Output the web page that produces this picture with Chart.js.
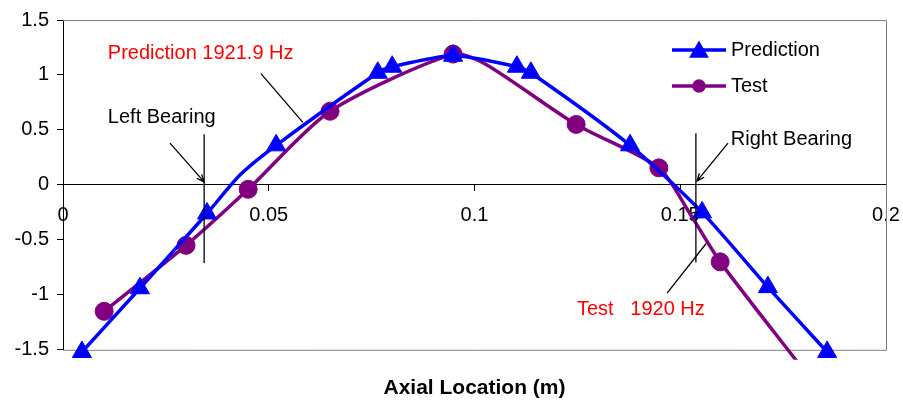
<!DOCTYPE html>
<html>
<head>
<meta charset="utf-8">
<script src="https://cdn.jsdelivr.net/npm/chart.js@4/dist/chart.umd.min.js"></script>
<style>
  html, body { margin: 0; padding: 0; background: #fff; }
  #wrap { width: 903px; height: 400px; }
</style>
</head>
<body>
<div id="wrap"><canvas id="modeShape" width="903" height="400"></canvas></div>
<script>
// axial location (m) and normalised mode shape amplitude
const predX = [0.0046, 0.0187, 0.0350, 0.0430, 0.0518, 0.0765, 0.0800, 0.0948, 0.1103, 0.1137, 0.1378, 0.1553, 0.1713, 0.1857];
const predY = [-1.52, -0.94, -0.26, 0.09, 0.36, 1.02, 1.075, 1.175, 1.075, 1.02, 0.36, -0.25, -0.93, -1.52];
const predNoMarker = [3];

const testX = [0.0100, 0.0299, 0.0450, 0.0649, 0.0948, 0.1026, 0.1247, 0.1448, 0.1525, 0.1597, 0.1795];
const testY = [-1.15, -0.55, -0.04, 0.67, 1.19, 1.10, 0.55, 0.155, -0.27, -0.70, -1.66];
const testNoMarker = [5, 8, 10];

const seriesNames = ['Prediction', 'Test'];

const FONT = "'Liberation Sans', Arial, sans-serif";
const BLUE = '#0000ff';
const PURPLE = '#800080';
const RED = '#ff0000';

function toPoints(xs, ys) {
  return xs.map((x, i) => ({ x: x, y: ys[i] }));
}

// labels, bearing markers and leader lines, placed in axis units
const notes = [
  { text: 'Prediction 1921.9 Hz', color: RED, x: 0.0109, y: 1.193 },
  { text: 'Left Bearing', color: '#000', x: 0.0109, y: 0.614 },
  { text: 'Right Bearing', color: '#000', x: 0.1623, y: 0.416 },
  { text: 'Test   1920 Hz', color: RED, x: 0.1249, y: -1.13 }
];
const leaders = [
  { from: [0.0481, 1.012], to: [0.0583, 0.569] },
  { from: [0.0343, 0.46], to: [0.0343, -0.71] },
  { from: [0.0260, 0.38], to: [0.0343, 0.027], arrow: true },
  { from: [0.1538, 0.47], to: [0.1538, -0.705] },
  { from: [0.1616, 0.38], to: [0.1541, 0.036], arrow: true },
  { from: [0.1468, -0.985], to: [0.1563, -0.533] }
];

const framePlugin = {
  id: 'frame',
  beforeDatasetsDraw(chart) {
    const { ctx, chartArea: a } = chart;
    ctx.save();
    ctx.strokeStyle = '#808080';
    ctx.lineWidth = 1;
    ctx.beginPath();
    ctx.moveTo(a.left, a.top + 0.5);
    ctx.lineTo(a.right + 0.5, a.top + 0.5);
    ctx.lineTo(a.right + 0.5, a.bottom + 0.5);
    ctx.lineTo(a.left, a.bottom + 0.5);
    ctx.stroke();
    ctx.restore();
  }
};

const notesPlugin = {
  id: 'notes',
  afterDatasetsDraw(chart) {
    const { ctx } = chart;
    const sx = chart.scales.x, sy = chart.scales.y;
    ctx.save();
    ctx.strokeStyle = '#000';
    ctx.lineWidth = 1.3;
    leaders.forEach(l => {
      const x1 = sx.getPixelForValue(l.from[0]), y1 = sy.getPixelForValue(l.from[1]);
      const x2 = sx.getPixelForValue(l.to[0]), y2 = sy.getPixelForValue(l.to[1]);
      ctx.beginPath();
      ctx.moveTo(x1, y1);
      ctx.lineTo(x2, y2);
      if (l.arrow) {
        const ang = Math.atan2(y2 - y1, x2 - x1);
        const len = 8;
        ctx.moveTo(x2 - len * Math.cos(ang - 0.4), y2 - len * Math.sin(ang - 0.4));
        ctx.lineTo(x2, y2);
        ctx.lineTo(x2 - len * Math.cos(ang + 0.4), y2 - len * Math.sin(ang + 0.4));
      }
      ctx.stroke();
    });
    ctx.font = '20px ' + FONT;
    ctx.textBaseline = 'middle';
    ctx.textAlign = 'left';
    notes.forEach(n => {
      ctx.fillStyle = n.color;
      ctx.fillText(n.text, sx.getPixelForValue(n.x), sy.getPixelForValue(n.y));
    });

    // legend: line sample with marker, then series name
    const a = chart.chartArea;
    const lx = a.right - 214, rowY = [a.top + 30, a.top + 66];
    chart.data.datasets.forEach((ds, i) => {
      const y = rowY[i];
      ctx.strokeStyle = ds.borderColor;
      ctx.lineWidth = 3.5;
      ctx.beginPath();
      ctx.moveTo(lx, y);
      ctx.lineTo(lx + 54, y);
      ctx.stroke();
      ctx.fillStyle = ds.backgroundColor;
      Chart.helpers.drawPoint(ctx, {
        pointStyle: ds.pointStyle,
        radius: ds.pointStyle === 'triangle' ? 8 : 5,
        rotation: 0,
        borderWidth: 1
      }, lx + 27, ds.pointStyle === 'triangle' ? y + 2 : y);
      ctx.fillStyle = '#000';
      ctx.fillText(ds.label, lx + 59, y);
    });
    ctx.restore();
  }
};

function markerRadius(skip, r) {
  return ctx => (skip.includes(ctx.dataIndex) ? 0 : r);
}

const tickText = v => String(Math.round(v * 100) / 100);

new Chart(document.getElementById('modeShape'), {
  type: 'scatter',
  data: {
    datasets: [{
      label: seriesNames[0],
      data: toPoints(predX, predY),
      showLine: true,
      borderColor: BLUE,
      backgroundColor: BLUE,
      borderWidth: 3.5,
      tension: 0.25,
      pointStyle: 'triangle',
      pointRadius: markerRadius(predNoMarker, 11),
      pointBorderWidth: 1,
      pointHoverRadius: 0,
      clip: { left: 12, top: 12, right: 12, bottom: 10 }
    }, {
      label: seriesNames[1],
      data: toPoints(testX, testY),
      showLine: true,
      borderColor: PURPLE,
      backgroundColor: PURPLE,
      borderWidth: 3.5,
      tension: 0.25,
      pointStyle: 'circle',
      pointRadius: markerRadius(testNoMarker, 9),
      pointBorderWidth: 1,
      pointHoverRadius: 0,
      clip: { left: 12, top: 12, right: 12, bottom: 10 }
    }]
  },
  options: {
    responsive: false,
    animation: false,
    events: [],
    layout: { padding: { top: 18, right: 17, bottom: 0, left: 0 } },
    scales: {
      x: {
        type: 'linear',
        position: { y: 0 },
        min: 0,
        max: 0.2,
        ticks: { stepSize: 0.05, color: '#000', font: { family: FONT, size: 20 }, padding: 13, callback: tickText, maxRotation: 0 },
        grid: { drawOnChartArea: false, tickLength: 6, color: '#000' },
        border: { color: '#000', width: 1 },
        afterFit(scale) { scale.paddingLeft = 0; scale.paddingRight = 0; }
      },
      y: {
        min: -1.5,
        max: 1.5,
        ticks: { stepSize: 0.5, color: '#000', font: { family: FONT, size: 20 }, padding: 8, callback: tickText },
        grid: { drawOnChartArea: false, tickLength: 6, color: '#000' },
        border: { color: '#000', width: 1 },
        afterFit(scale) { scale.width = 63; }
      }
    },
    plugins: {
      legend: { display: false },
      tooltip: { enabled: false },
      title: {
        display: true,
        text: 'Axial Location (m)',
        position: 'bottom',
        fullSize: false,
        color: '#000',
        font: { family: FONT, size: 21, weight: 'bold' },
        padding: { top: 26, bottom: -1 }
      }
    }
  },
  plugins: [framePlugin, notesPlugin]
});
</script>
</body>
</html>
